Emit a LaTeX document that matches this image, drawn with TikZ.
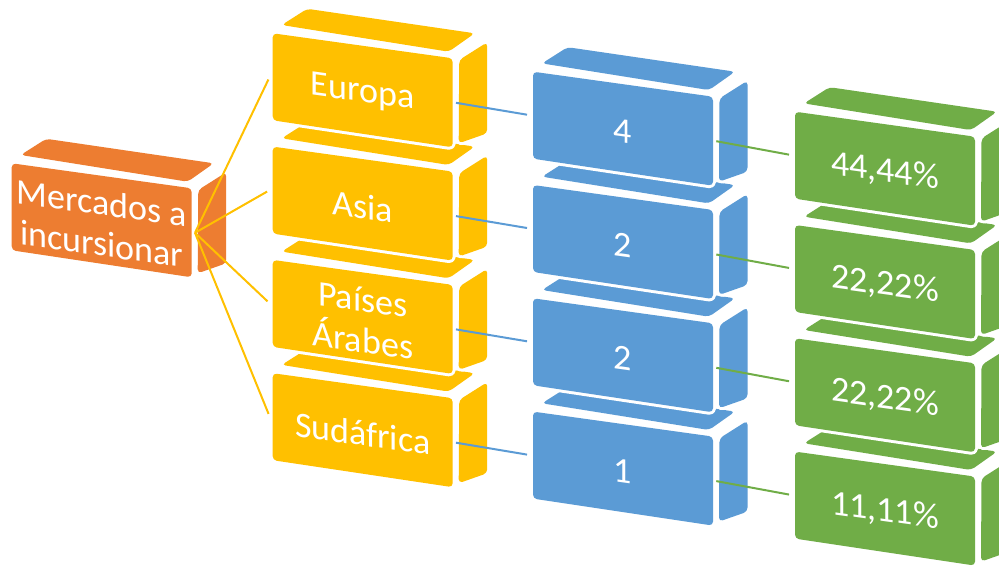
\documentclass[tikz,border=0pt]{standalone}
\usepackage{fontspec}
\setmainfont{Carlito}

\definecolor{cOrange}{HTML}{ED7D31}
\definecolor{cYellow}{HTML}{FFC000}
\definecolor{cBlue}{HTML}{5B9BD5}
\definecolor{cGreen}{HTML}{70AD47}

\tikzset{
  face/.style={fill=#1, rounded corners=4pt,
    preaction={draw=white, line width=6pt, line join=round}},
  boxlabel/.style={text=white, font=\fontsize{36}{41}\selectfont, align=center,
    yslant=-0.139, yshift=-3pt, inner sep=0pt},
  link/.style={line width=2pt, shorten >=3pt},
}

% one 3D block: name, front top-left corner (x,y), colour, label
\newcommand\cubebox[5]{%
  \begin{scope}[shift={(#2,#3)}]
    \path[face=#4] (9,-8.3) -- (34.5,-24.5) -- (202,0) -- (176,18.4) -- cycle;
    \path[face=#4] (186.5,26.7) -- (214.5,9) -- (214.5,100) -- (186,110) -- cycle;
    \path[face=#4] (0,0) -- (180,25) -- (180,114) -- (0,87) -- cycle;
    \coordinate (#1-in) at (-3,43.5);
    \coordinate (#1-out) at (183.3,69.5);
    \node[boxlabel] (#1) at (90,57) {#5};
  \end{scope}}

\begin{document}
\begin{tikzpicture}[x=1pt, y=-1pt]
  \useasboundingbox (0,0) rectangle (999,567);
  \clip (0,0) rectangle (999,567);

  % root block
  \cubebox{root}{11.7}{163.3}{cOrange}{Mercados a\\incursionar}

  % regions (lowest first so upper blocks overlap their top faces)
  \cubebox{sa}{272.7}{373.2}{cYellow}{Sudáfrica}
  \cubebox{ar}{272.7}{259.9}{cYellow}{Países\\Árabes}
  \cubebox{as}{272.7}{146.6}{cYellow}{Asia}
  \cubebox{eu}{272.7}{33.3}{cYellow}{Europa}

  % counts
  \cubebox{n4}{533}{411.6}{cBlue}{1}
  \cubebox{n3}{533}{298.3}{cBlue}{2}
  \cubebox{n2}{533}{185}{cBlue}{2}
  \cubebox{n1}{533}{71.7}{cBlue}{4}

  % shares
  \cubebox{p4}{795}{451.6}{cGreen}{11,11\%}
  \cubebox{p3}{795}{338.3}{cGreen}{22,22\%}
  \cubebox{p2}{795}{225}{cGreen}{22,22\%}
  \cubebox{p1}{795}{111.7}{cGreen}{44,44\%}

  % connectors
  \foreach \t in {eu,as,ar,sa} \draw[link, cYellow] (root-out) -- (\t-in);
  \draw[link, cBlue] (eu-out) -- (n1-in);
  \draw[link, cBlue] (as-out) -- (n2-in);
  \draw[link, cBlue] (ar-out) -- (n3-in);
  \draw[link, cBlue] (sa-out) -- (n4-in);
  \draw[link, cGreen] (n1-out) -- (p1-in);
  \draw[link, cGreen] (n2-out) -- (p2-in);
  \draw[link, cGreen] (n3-out) -- (p3-in);
  \draw[link, cGreen] (n4-out) -- (p4-in);
\end{tikzpicture}
\end{document}
